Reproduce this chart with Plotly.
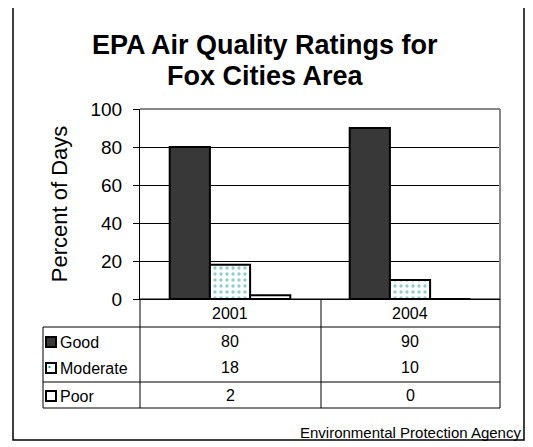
import plotly.graph_objects as go

years = ["2001", "2004"]
series_names = ["Good", "Moderate", "Poor"]
good = [80, 90]
moderate = [18, 10]
poor = [2, 0]
y_ticks = [0, 20, 40, 60, 80, 100]

OFF = 8                      # page body margin
W, H = 525, 439              # figure size
L, R, T, B = 140, 500, 109, 299  # plot area in screen pixels


def px(x):
    return (x - L) / (R - L)


def py(y):
    return (B - y) / (B - T)


FONT = "Liberation Sans, Arial, sans-serif"

fig = go.Figure()
fig.add_trace(go.Bar(name="Good", x=years, y=good,
                     marker=dict(color="#383838", line=dict(color="black", width=2))))
fig.add_trace(go.Bar(name="Moderate", x=years, y=moderate,
                     marker=dict(color="white", line=dict(color="black", width=2),
                                 pattern=dict(shape=".", fgcolor="#1f9a9a", bgcolor="white",
                                              size=6, solidity=0.25))))
fig.add_trace(go.Bar(name="Poor", x=years, y=poor,
                     marker=dict(color="white", line=dict(color="black", width=2))))

shapes = []
# outer border
shapes.append(dict(type="rect", xref="paper", yref="paper", x0=px(13), x1=px(524), y0=py(3), y1=py(440),
                   line=dict(color="black", width=1.5), layer="below"))
# plot frame top/right (gray)
shapes.append(dict(type="line", xref="paper", yref="paper", x0=px(140), x1=px(500), y0=1, y1=1,
                   line=dict(color="#888888", width=2)))
shapes.append(dict(type="line", xref="paper", yref="paper", x0=1, x1=1, y0=0, y1=1,
                   line=dict(color="#888888", width=2)))
# table lines
tline = dict(color="black", width=1)
shapes.append(dict(type="line", xref="paper", yref="paper", x0=px(140), x1=px(500), y0=py(299), y1=py(299), line=tline))
for yv in [327, 382, 408]:
    shapes.append(dict(type="line", xref="paper", yref="paper", x0=px(43), x1=px(500), y0=py(yv), y1=py(yv), line=tline))
for xv, y0 in [(43, 327), (140, 299), (321, 299), (500, 299)]:
    shapes.append(dict(type="line", xref="paper", yref="paper", x0=px(xv), x1=px(xv), y0=py(y0), y1=py(408), line=tline))

# legend swatches in table
row_centers = [342, 368, 396]
sw_fill = ["#383838", "white", "white"]
for yc, fc in zip(row_centers, sw_fill):
    shapes.append(dict(type="rect", xref="paper", yref="paper", x0=px(46), x1=px(56), y0=py(yc - 5), y1=py(yc + 5),
                       line=dict(color="black", width=2), fillcolor=fc))
shapes.append(dict(type="rect", xref="paper", yref="paper", x0=px(48.5), x1=px(50.5), y0=py(366), y1=py(368),
                   line=dict(width=0), fillcolor="#1f9a9a"))

annotations = []
for line_text, yc in [("EPA Air Quality Ratings for", 45), ("Fox Cities Area", 76)]:
    annotations.append(dict(text="<b>" + line_text + "</b>", xref="paper", yref="paper",
                            x=px(265), y=py(yc), xanchor="center", yanchor="middle", showarrow=False,
                            font=dict(family=FONT, size=27, color="black")))
col_x = [230, 410]
for yr, cx in zip(years, col_x):
    annotations.append(dict(text=yr, xref="paper", yref="paper", x=px(cx), y=py(313), showarrow=False,
                            xanchor="center", yanchor="middle", font=dict(family=FONT, size=16, color="black")))
for name, vals, yc in zip(series_names, [good, moderate, poor], row_centers):
    annotations.append(dict(text=name, xref="paper", yref="paper", x=px(58), y=py(yc), showarrow=False,
                            xanchor="left", yanchor="middle", font=dict(family=FONT, size=16, color="black")))
    for v, cx in zip(vals, col_x):
        annotations.append(dict(text=str(v), xref="paper", yref="paper", x=px(cx), y=py(yc - 1), showarrow=False,
                                xanchor="center", yanchor="middle", font=dict(family=FONT, size=16, color="black")))
annotations.append(dict(text="Environmental Protection Agency", xref="paper", yref="paper", x=px(523), y=py(432),
                        showarrow=False, xanchor="right", yanchor="middle",
                        font=dict(family=FONT, size=15, color="black")))

fig.update_layout(
    width=W, height=H,
    margin=dict(l=L - OFF, r=W - (R - OFF), t=T - OFF, b=H - (B - OFF), pad=0),
    paper_bgcolor="white", plot_bgcolor="white",
    barmode="group", bargap=0.33, bargroupgap=0,
    showlegend=False,
    font=dict(family=FONT, color="black"),
    shapes=shapes, annotations=annotations,
    xaxis=dict(showticklabels=False, ticks="", showgrid=False, showline=True, linecolor="black",
               linewidth=1, zeroline=False, range=[-0.5, 1.5]),
    yaxis=dict(range=[0, 100], tickvals=y_ticks, ticks="outside", ticklen=6, tickcolor="black",
               showline=True, linecolor="black", linewidth=1, showgrid=True, gridcolor="black", gridwidth=1,
               zeroline=False, tickfont=dict(family=FONT, size=19, color="black"), ticklabelstandoff=7,
               title=dict(text="Percent of Days", font=dict(family=FONT, size=22, color="black"), standoff=16)),
)

fig.write_html("out.html")
